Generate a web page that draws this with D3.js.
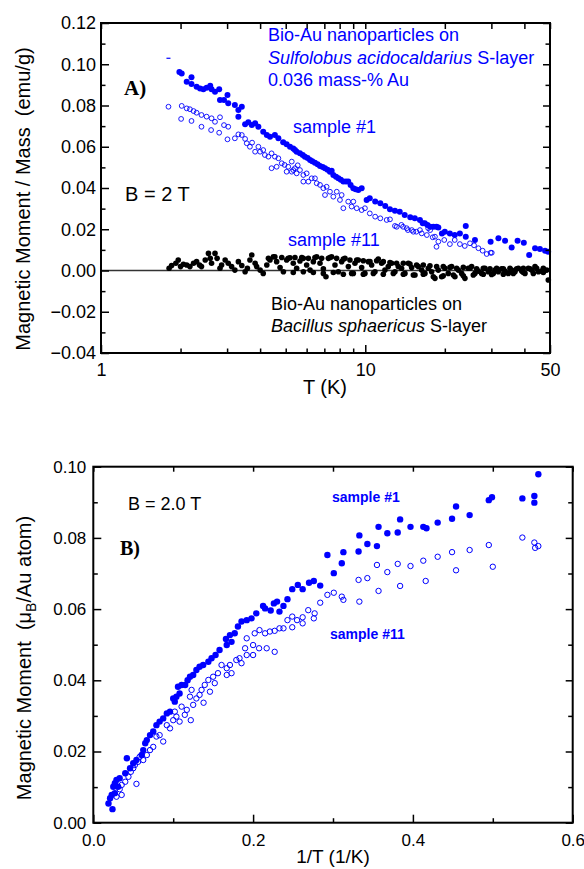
<!DOCTYPE html>
<html>
<head>
<meta charset="utf-8">
<script src="https://cdn.jsdelivr.net/npm/d3@7"></script>
<style>
body { margin: 0; background: #fff; }
svg text { font-family: "Liberation Sans", Arial, sans-serif; white-space: pre; }
</style>
</head>
<body>
<div id="chart"></div>
<script>
// ---- panel A data: T (K), magnetic moment / mass (emu/g)
var s1FilledA = [[1.98,0.0962],[2.02,0.0955],[2.20,0.0937],[2.11,0.0915],[2.20,0.0904],[2.30,0.0891],[2.37,0.0883],[2.44,0.0879],[2.51,0.0886],[2.59,0.0896],[2.62,0.0879],[2.70,0.0867],[2.80,0.0879],[2.82,0.0827],[2.92,0.0827],[3.01,0.0851],[3.03,0.0811],[3.21,0.0802],[3.31,0.0778],[3.41,0.0794],[3.31,0.0746],[3.51,0.0709],[3.61,0.0719],[3.72,0.0705],[3.83,0.0714],[3.94,0.0697],[4.11,0.0673],[4.24,0.0657],[4.36,0.0649],[4.55,0.0657],[4.69,0.0641],[4.89,0.0622],[5.04,0.0612],[5.19,0.0600],[5.34,0.0592],[5.42,0.0584],[5.50,0.0576],[5.66,0.0568],[5.80,0.0560],[5.91,0.0552],[6.05,0.0545],[6.18,0.0536],[6.30,0.0530],[6.45,0.0523],[6.60,0.0515],[6.74,0.0507],[6.90,0.0502],[7.04,0.0496],[7.20,0.0488],[7.35,0.0479],[7.46,0.0484],[7.57,0.0463],[7.75,0.0455],[7.91,0.0447],[8.08,0.0440],[8.26,0.0431],[8.45,0.0431],[8.62,0.0431],[8.80,0.0415],[9.01,0.0399],[9.20,0.0394],[9.41,0.0390],[9.69,0.0399],[10.12,0.0342],[10.4,0.0350],[10.9,0.0334],[11.4,0.0326],[11.9,0.0313],[12.4,0.0297],[12.95,0.0290],[13.5,0.0285],[14.1,0.0269],[14.8,0.0258],[15.4,0.0253],[16.1,0.0245],[16.5,0.0229],[16.8,0.0229],[17.2,0.0221],[17.6,0.0212],[18.1,0.0212],[18.6,0.0212],[18.9,0.0209],[19.5,0.0180],[20.0,0.0188],[20.9,0.0180],[21.8,0.0172],[22.8,0.0180],[24.0,0.0216],[24.0,0.0164],[26.0,0.0148],[29.8,0.0140],[31.9,0.0156],[33.8,0.0144],[35.8,0.0111],[37.7,0.0144],[39.8,0.0135],[41.7,0.0075],[43.9,0.0108],[45.8,0.0104],[47.9,0.0096],[49.2,0.0091]];
var dashA = [[1.80,0.1029]];
var s1OpenA = [[1.80,0.0794],[2.02,0.0798],[2.01,0.0735],[2.11,0.0786],[2.17,0.0782],[2.24,0.0773],[2.30,0.0765],[2.40,0.0754],[2.20,0.0725],[2.40,0.0697],[2.51,0.0746],[2.62,0.0738],[2.70,0.0721],[2.82,0.0743],[2.61,0.0681],[2.80,0.0668],[2.92,0.0705],[3.03,0.0697],[3.01,0.0636],[3.21,0.0641],[3.31,0.0660],[3.41,0.0657],[3.51,0.0638],[3.56,0.0617],[3.66,0.0600],[3.73,0.0620],[3.83,0.0576],[3.94,0.0600],[4.00,0.0576],[4.11,0.0584],[4.17,0.0560],[4.30,0.0552],[4.42,0.0568],[4.55,0.0552],[4.69,0.0544],[4.42,0.0496],[4.62,0.0503],[4.83,0.0520],[4.95,0.0512],[5.11,0.0503],[5.04,0.0479],[5.27,0.0479],[5.42,0.0496],[5.55,0.0510],[5.27,0.0528],[5.34,0.0487],[5.50,0.0471],[5.66,0.0487],[5.83,0.0463],[6.00,0.0471],[5.83,0.0431],[6.09,0.0431],[6.27,0.0447],[6.45,0.0447],[6.55,0.0423],[6.74,0.0415],[6.94,0.0399],[7.14,0.0406],[7.04,0.0366],[7.35,0.0382],[7.57,0.0358],[7.80,0.0382],[8.02,0.0342],[8.14,0.0366],[8.26,0.0302],[8.62,0.0334],[8.88,0.0310],[9.01,0.0334],[9.28,0.0302],[9.69,0.0293],[9.97,0.0302],[10.4,0.0277],[10.9,0.0261],[11.4,0.0253],[12.05,0.0245],[12.4,0.0248],[12.95,0.0216],[13.15,0.0212],[13.7,0.0221],[13.9,0.0212],[14.35,0.0205],[14.5,0.0196],[15.0,0.0196],[15.2,0.0188],[15.6,0.0188],[16.1,0.0196],[16.35,0.0180],[17.1,0.0172],[17.3,0.0205],[17.6,0.0196],[18.0,0.0161],[18.35,0.0164],[18.6,0.0115],[18.9,0.0140],[19.9,0.0148],[20.9,0.0128],[21.8,0.0148],[22.8,0.0128],[23.8,0.0119],[24.9,0.0132],[25.8,0.0122],[26.8,0.0108],[27.8,0.0096],[28.8,0.0080],[29.8,0.0086],[30.1,0.0086]];
var s11A = [[1.81,0.0011],[1.85,0.0024],[1.92,0.0035],[1.96,0.0051],[2.00,0.0019],[2.05,0.0030],[2.11,0.0027],[2.17,0.0019],[2.24,0.0035],[2.30,0.0043],[2.36,0.0027],[2.40,0.0019],[2.48,0.0051],[2.55,0.0083],[2.59,0.0059],[2.62,0.0035],[2.70,0.0083],[2.75,0.0059],[2.82,0.0011],[2.86,0.0027],[2.95,0.0051],[3.03,0.0035],[3.12,0.0019],[3.21,0.0002],[3.31,0.0043],[3.41,0.0024],[3.51,-0.0006],[3.58,0.0011],[3.66,0.0051],[3.72,0.0075],[3.83,0.0035],[3.88,0.0019],[4.00,0.0002],[4.11,-0.0014],[4.24,0.0027],[4.36,0.0051],[4.49,0.0067],[4.62,0.0043],[4.76,0.0014],[4.90,-0.0006],[5.04,0.0051],[5.19,0.0062],[5.34,0.0035],[5.50,0.0011],[5.66,0.0046],[5.83,0.0059],[6.00,0.0027],[6.18,0.0002],[6.36,0.0043],[6.55,0.0067],[6.74,0.0035],[6.94,0.0008],[7.10,-0.0030],[7.25,0.0059],[7.46,0.0067],[7.68,0.0027],[7.91,-0.0006],[8.14,0.0043],[8.38,0.0059],[8.63,0.0019],[8.88,-0.0014],[9.14,0.0035],[9.41,0.0051],[9.69,0.0014],[9.97,-0.0014],[10.27,0.0043],[10.57,0.0027],[10.88,-0.0006],[11.20,0.0056],[11.53,0.0035],[11.87,0.0002],[12.22,0.0019],[12.58,0.0035],[12.95,-0.0006],[13.33,0.0019],[13.72,0.0011],[14.13,-0.0014],[14.55,0.0035],[14.98,0.0014],[15.42,-0.0022],[15.87,0.0019],[16.34,0.0002],[16.82,-0.0014],[17.32,0.0011],[17.83,-0.0006],[18.35,-0.0038],[18.89,0.0002],[19.45,-0.0030],[20.02,0.0011],[20.61,-0.0014],[21.22,0.0019],[21.84,-0.0030],[22.49,0.0002],[23.15,-0.0014],[23.83,-0.0038],[24.53,0.0011],[25.26,0.0019],[26.00,-0.0014],[26.77,-0.0003],[27.56,-0.0014],[28.37,0.0011],[29.20,-0.0006],[30.06,-0.0019],[30.95,0.0002],[31.86,-0.0006],[32.80,0.0008],[33.77,-0.0003],[34.77,-0.0014],[35.79,0.0002],[36.85,-0.0006],[37.94,0.0011],[39.06,-0.0003],[40.21,-0.0014],[41.40,0.0011],[42.62,0.0002],[43.88,0.0019],[45.18,-0.0006],[46.51,-0.0003],[48.58,0.0002],[49.27,-0.0046]];
var s11UpperA = [[4.30,0.0059],[4.55,0.0067],[4.83,0.0063],[5.11,0.0059],[5.42,0.0063],[5.75,0.0063],[6.09,0.0059],[6.45,0.0063],[6.84,0.0059],[7.35,0.0063],[7.79,0.0059],[8.26,0.0055],[8.75,0.0051],[9.28,0.0051],[9.83,0.0047],[10.42,0.0043],[11.04,0.0047],[11.70,0.0043],[12.40,0.0039],[13.14,0.0035],[13.93,0.0035],[14.76,0.0031],[15.64,0.0027],[16.58,0.0027],[17.57,0.0023],[18.62,0.0019],[19.73,0.0019],[20.92,0.0015],[22.17,0.0011],[23.49,0.0015],[24.9,0.0011],[26.39,0.0008],[27.97,0.0011],[29.64,0.0008],[31.41,0.0011],[33.29,0.0008],[35.28,0.0011],[37.39,0.0008],[39.63,0.0011],[42.0,0.0008],[44.51,0.0011],[47.17,0.0011]];
var s11LowerA = [[5.34,-0.0010],[5.83,-0.0006],[6.36,-0.0010],[6.94,-0.0014],[7.57,-0.0010],[8.26,-0.0018],[9.01,-0.0014],[9.83,-0.0018],[10.73,-0.0014],[11.70,-0.0018],[12.77,-0.0014],[13.93,-0.0018],[15.2,-0.0022],[16.58,-0.0018],[18.09,-0.0030],[19.73,-0.0026],[21.54,-0.0022],[23.49,-0.0026],[25.63,-0.0022],[27.97,-0.0018],[30.51,-0.0014],[33.29,-0.0018],[36.31,-0.0014],[39.63,-0.0010],[43.24,-0.0014],[47.17,-0.0010]];

// ---- panel B data: 1/T (1/K), magnetic moment (muB / Au atom)
var s1FilledB = [[0.557,0.0979],[0.552,0.0918],[0.552,0.0899],[0.537,0.0911],[0.495,0.0906],[0.499,0.0914],[0.471,0.0864],[0.454,0.0888],[0.449,0.0854],[0.431,0.0843],[0.417,0.0827],[0.413,0.0831],[0.397,0.0831],[0.384,0.0852],[0.381,0.0815],[0.368,0.0813],[0.357,0.0831],[0.355,0.0777],[0.343,0.0783],[0.333,0.0807],[0.332,0.0762],[0.313,0.0760],[0.311,0.0729],[0.301,0.0701],[0.293,0.0752],[0.284,0.0666],[0.276,0.0679],[0.270,0.0674],[0.262,0.0656],[0.256,0.0668],[0.249,0.0656],[0.243,0.0628],[0.238,0.0609],[0.233,0.0593],[0.230,0.0621],[0.226,0.0616],[0.222,0.0596],[0.215,0.0602],[0.2125,0.0609],[0.204,0.0588],[0.198,0.0574],[0.192,0.0569],[0.1855,0.0565],[0.181,0.0551],[0.177,0.0532],[0.171,0.0527],[0.166,0.0516],[0.173,0.0508],[0.167,0.0499],[0.158,0.0485],[0.153,0.0471],[0.148,0.0462],[0.144,0.0452],[0.1375,0.0443],[0.133,0.0438],[0.129,0.0429],[0.125,0.0415],[0.121,0.0410],[0.118,0.0400],[0.115,0.0387],[0.1105,0.0387],[0.106,0.0382],[0.108,0.0363],[0.104,0.0354],[0.100,0.0349],[0.102,0.0340],[0.096,0.0312],[0.092,0.0307],[0.0875,0.0293],[0.083,0.0284],[0.079,0.0274],[0.075,0.0256],[0.071,0.0246],[0.067,0.0232],[0.065,0.0223],[0.0625,0.0204],[0.0605,0.0190],[0.054,0.0176],[0.050,0.0167],[0.042,0.0181],[0.046,0.0153],[0.040,0.0139],[0.033,0.0125],[0.029,0.0120],[0.027,0.0111],[0.025,0.0101],[0.031,0.0101],[0.027,0.0083],[0.023,0.0078],[0.021,0.0069],[0.019,0.0054],[0.024,0.0038]];
var s11OpenB = [[0.537,0.0801],[0.552,0.0787],[0.553,0.0772],[0.557,0.0777],[0.495,0.0780],[0.500,0.0719],[0.471,0.0766],[0.454,0.0709],[0.449,0.0760],[0.431,0.0747],[0.416,0.0679],[0.413,0.0736],[0.397,0.0721],[0.384,0.0665],[0.381,0.0727],[0.368,0.0704],[0.355,0.0724],[0.357,0.0651],[0.343,0.0687],[0.332,0.0682],[0.333,0.0621],[0.311,0.0635],[0.313,0.0626],[0.301,0.0646],[0.293,0.0640],[0.284,0.0618],[0.277,0.0588],[0.276,0.0574],[0.269,0.0597],[0.262,0.0560],[0.262,0.0577],[0.255,0.0569],[0.249,0.0579],[0.249,0.0549],[0.243,0.0569],[0.238,0.0546],[0.233,0.0546],[0.227,0.0539],[0.221,0.0537],[0.215,0.0532],[0.208,0.0541],[0.202,0.0532],[0.192,0.0518],[0.227,0.0480],[0.217,0.0490],[0.2075,0.0490],[0.200,0.0471],[0.200,0.0499],[0.192,0.0471],[0.190,0.0490],[0.1855,0.0448],[0.183,0.0462],[0.179,0.0457],[0.173,0.0420],[0.171,0.0443],[0.167,0.0434],[0.167,0.0415],[0.1605,0.0443],[0.156,0.0420],[0.152,0.0392],[0.150,0.0410],[0.146,0.0368],[0.144,0.0401],[0.1395,0.0387],[0.138,0.0337],[0.1355,0.0373],[0.133,0.0359],[0.129,0.0349],[0.125,0.0331],[0.123,0.0373],[0.121,0.0354],[0.122,0.0288],[0.117,0.0317],[0.1145,0.0303],[0.1105,0.0326],[0.108,0.0284],[0.104,0.0298],[0.102,0.0312],[0.100,0.0288],[0.096,0.0265],[0.092,0.0274],[0.0875,0.0228],[0.083,0.0246],[0.079,0.0242],[0.075,0.0213],[0.071,0.0204],[0.067,0.0190],[0.0625,0.0176],[0.058,0.0185],[0.056,0.0171],[0.052,0.0162],[0.050,0.0153],[0.047,0.0143],[0.054,0.0109],[0.044,0.0129],[0.040,0.0115],[0.0355,0.0106],[0.033,0.0094],[0.0355,0.0078],[0.029,0.0073]];

// ---- ticks
var xMajorA = [1, 10, 50];
var xMinorA = [2, 3, 4, 5, 6, 7, 8, 9, 20, 30, 40];
var yMajorA = [-0.04, -0.02, 0, 0.02, 0.04, 0.06, 0.08, 0.10, 0.12];
var yMinorA = [-0.03, -0.01, 0.01, 0.03, 0.05, 0.07, 0.09, 0.11];
var xMajorB = [0, 0.2, 0.4, 0.6];
var xMinorB = [0.1, 0.3, 0.5];
var yMajorB = [0, 0.02, 0.04, 0.06, 0.08, 0.10];
var yMinorB = [0.01, 0.03, 0.05, 0.07, 0.09];

var blue = "#0000ff";

var svg = d3.select("#chart").append("svg")
    .attr("width", 584)
    .attr("height", 869);

// draws inward ticks on all four sides plus the frame
function frame(g, x, y, w, h, o) {
  function style(sel, fs) {
    sel.select(".domain").remove();
    sel.selectAll("line").attr("stroke", "#000").attr("stroke-width", 1.5);
    sel.selectAll("text").attr("font-size", fs).attr("fill", "#000")
      .attr("font-family", '"Liberation Sans", Arial, sans-serif');
  }
  g.append("g").attr("transform", "translate(0," + h + ")")
    .call(d3.axisBottom(x).tickValues(o.xMajor).tickSize(-8).tickPadding(o.xPad).tickFormat(o.fmtX))
    .call(style, o.fs);
  g.append("g").attr("transform", "translate(0," + h + ")")
    .call(d3.axisBottom(x).tickValues(o.xMinor).tickSize(-4.5).tickFormat(""))
    .call(style, o.fs);
  g.append("g")
    .call(d3.axisTop(x).tickValues(o.xTop).tickSize(-o.topLen).tickFormat(""))
    .call(style, o.fs);
  g.append("g")
    .call(d3.axisLeft(y).tickValues(o.yMajor).tickSize(-8).tickPadding(o.yPad).tickFormat(d3.format(".2f")))
    .call(style, o.fs);
  g.append("g")
    .call(d3.axisLeft(y).tickValues(o.yMinor).tickSize(-4.5).tickFormat(""))
    .call(style, o.fs);
  g.append("g").attr("transform", "translate(" + w + ",0)")
    .call(d3.axisRight(y).tickValues(o.yMajor).tickSize(-7).tickFormat(""))
    .call(style, o.fs);
  g.append("g").attr("transform", "translate(" + w + ",0)")
    .call(d3.axisRight(y).tickValues(o.yMinor).tickSize(-4.5).tickFormat(""))
    .call(style, o.fs);
  g.append("rect")
    .attr("width", w).attr("height", h)
    .attr("fill", "none").attr("stroke", "#000").attr("stroke-width", 2);
}

// ================= Panel A =================
var mA = {left: 101, top: 23}, wA = 449, hA = 330;
var xA = d3.scaleLog().domain([1, 50]).range([0, wA]);
var yA = d3.scaleLinear().domain([-0.04, 0.12]).range([hA, 0]);
var gA = svg.append("g").attr("transform", "translate(" + mA.left + "," + mA.top + ")");

// zero line
gA.append("line")
  .attr("x1", 0).attr("x2", wA)
  .attr("y1", yA(0)).attr("y2", yA(0))
  .attr("stroke", "#333").attr("stroke-width", 1.5);

[s11A, s11UpperA, s11LowerA].forEach(function(arr) {
  gA.append("g").selectAll("circle")
    .data(arr).enter().append("circle")
    .attr("cx", function(d) { return xA(d[0]); })
    .attr("cy", function(d) { return yA(d[1]); })
    .attr("r", 2.8)
    .attr("fill", "#000");
});

gA.append("g").selectAll("circle")
  .data(s1OpenA).enter().append("circle")
  .attr("cx", function(d) { return xA(d[0]); })
  .attr("cy", function(d) { return yA(d[1]); })
  .attr("r", 2.4)
  .attr("fill", "none")
  .attr("stroke", blue).attr("stroke-width", 0.9);

gA.append("g").selectAll("circle")
  .data(s1FilledA).enter().append("circle")
  .attr("cx", function(d) { return xA(d[0]); })
  .attr("cy", function(d) { return yA(d[1]); })
  .attr("r", 3)
  .attr("fill", blue);

gA.append("g").selectAll("line")
  .data(dashA).enter().append("line")
  .attr("x1", function(d) { return xA(d[0]) - 2; })
  .attr("x2", function(d) { return xA(d[0]) + 2; })
  .attr("y1", function(d) { return yA(d[1]); })
  .attr("y2", function(d) { return yA(d[1]); })
  .attr("stroke", blue).attr("stroke-width", 1.2);

frame(gA, xA, yA, wA, hA, {
  xMajor: xMajorA, xMinor: xMinorA, xTop: xMajorA.concat(xMinorA), topLen: 6,
  yMajor: yMajorA, yMinor: yMinorA,
  fmtX: d3.format("d"), fs: 18, xPad: 10, yPad: 5
});

// labels panel A
svg.append("text")
  .attr("transform", "translate(30," + 199 + ") rotate(-90)")
  .attr("text-anchor", "middle")
  .attr("font-size", 20)
  .text("Magnetic Moment / Mass\u00a0\u00a0(emu/g)");

svg.append("text")
  .attr("x", 325).attr("y", 394)
  .attr("text-anchor", "middle")
  .attr("font-size", 20)
  .text("T (K)");

svg.append("text")
  .attr("x", 124).attr("y", 95)
  .style("font-family", '"Liberation Serif", "Times New Roman", serif')
  .attr("font-weight", "bold")
  .attr("font-size", 21)
  .text("A)");

svg.append("text")
  .attr("x", 125).attr("y", 201)
  .attr("font-size", 20)
  .text("B = 2 T");

svg.append("text").attr("x", 268).attr("y", 41).attr("font-size", 18).attr("fill", blue)
  .text("Bio-Au nanoparticles on");
var tA2 = svg.append("text").attr("x", 268).attr("y", 64).attr("font-size", 18).attr("fill", blue);
tA2.append("tspan").attr("font-style", "italic").text("Sulfolobus acidocaldarius");
tA2.append("tspan").text(" S-layer");
svg.append("text").attr("x", 268).attr("y", 86).attr("font-size", 18).attr("fill", blue)
  .text("0.036 mass-% Au");

svg.append("text").attr("x", 293).attr("y", 133).attr("font-size", 18).attr("fill", blue)
  .text("sample #1");
svg.append("text").attr("x", 288).attr("y", 246).attr("font-size", 18).attr("fill", blue)
  .text("sample #11");

svg.append("text").attr("x", 271).attr("y", 310).attr("font-size", 18)
  .text("Bio-Au nanoparticles on");
var tA3 = svg.append("text").attr("x", 271).attr("y", 332).attr("font-size", 18);
tA3.append("tspan").attr("font-style", "italic").text("Bacillus sphaericus");
tA3.append("tspan").text(" S-layer");

// ================= Panel B =================
var mB = {left: 93.3, top: 466.7}, wB = 479.4, hB = 356;
var xB = d3.scaleLinear().domain([0, 0.6]).range([0, wB]);
var yB = d3.scaleLinear().domain([0, 0.10]).range([hB, 0]);
var gB = svg.append("g").attr("transform", "translate(" + mB.left + "," + mB.top + ")");

gB.append("g").selectAll("circle")
  .data(s11OpenB).enter().append("circle")
  .attr("cx", function(d) { return xB(d[0]); })
  .attr("cy", function(d) { return yB(d[1]); })
  .attr("r", 2.7)
  .attr("fill", "none")
  .attr("stroke", blue).attr("stroke-width", 1);

gB.append("g").selectAll("circle")
  .data(s1FilledB).enter().append("circle")
  .attr("cx", function(d) { return xB(d[0]); })
  .attr("cy", function(d) { return yB(d[1]); })
  .attr("r", 3.2)
  .attr("fill", blue);

frame(gB, xB, yB, wB, hB, {
  xMajor: xMajorB, xMinor: xMinorB, xTop: xMajorB.concat(xMinorB), topLen: 5,
  yMajor: yMajorB, yMinor: yMinorB,
  fmtX: d3.format(".1f"), fs: 17, xPad: 11, yPad: 7
});

var yl = svg.append("text")
  .attr("transform", "translate(31," + 658 + ") rotate(-90)")
  .attr("text-anchor", "middle")
  .attr("font-size", 20);
yl.append("tspan").text("Magnetic Moment\u00a0\u00a0(\u03bc");
yl.append("tspan").attr("font-size", 14).attr("dy", 5).text("B");
yl.append("tspan").attr("dy", -5).text("/Au atom)");

svg.append("text")
  .attr("x", 333).attr("y", 863)
  .attr("text-anchor", "middle")
  .attr("font-size", 19)
  .text("1/T (1/K)");

svg.append("text")
  .attr("x", 128).attr("y", 510)
  .attr("font-size", 18)
  .text("B = 2.0 T");

svg.append("text")
  .attr("x", 120).attr("y", 555)
  .style("font-family", '"Liberation Serif", "Times New Roman", serif')
  .attr("font-weight", "bold")
  .attr("font-size", 20)
  .text("B)");

svg.append("text").attr("x", 332).attr("y", 502)
  .attr("font-size", 14).attr("font-weight", "bold").attr("fill", blue)
  .text("sample #1");
svg.append("text").attr("x", 330).attr("y", 639)
  .attr("font-size", 14).attr("font-weight", "bold").attr("fill", blue)
  .text("sample #11");
</script>
</body>
</html>
